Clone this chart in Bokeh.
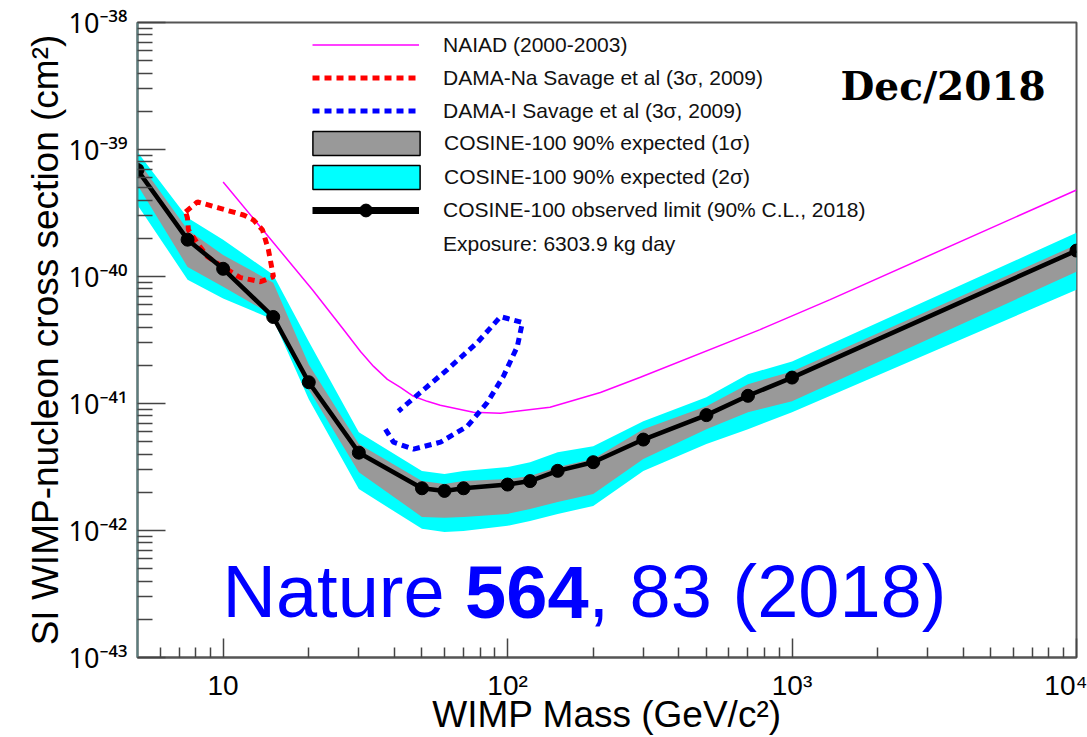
import math
from bokeh.plotting import figure
from bokeh.models import (Range1d, FixedTicker, Label, Legend, LegendItem,
                          CustomJSTickFormatter)
from bokeh.embed import file_html
from bokeh.resources import INLINE

# ---------------- data ----------------
mass = [5, 7.5, 10, 15, 20, 30, 50, 60, 70, 100, 120, 150, 200, 300, 500, 700, 1000, 10000]
observed = [6.9e-40, 1.95e-40, 1.15e-40, 4.8e-41, 1.47e-41, 4.1e-42, 2.15e-42, 2.05e-42,
            2.15e-42, 2.3e-42, 2.45e-42, 2.95e-42, 3.45e-42, 5.2e-42, 8.1e-42, 1.15e-41,
            1.6e-41, 1.6e-40]
exp2_up = [9.55e-40, 2.90e-40, 1.95e-40, 1.03e-40, 3.08e-41, 5.94e-42, 2.94e-42, 2.78e-42,
           2.94e-42, 3.16e-42, 3.45e-42, 4.14e-42, 4.61e-42, 7.25e-42, 1.12e-41, 1.70e-41,
           2.14e-41, 2.21e-40]
exp1_up = [8.26e-40, 2.33e-40, 1.48e-40, 8.94e-41, 2.03e-41, 4.79e-42, 2.45e-42, 2.32e-42,
           2.45e-42, 2.54e-42, 2.69e-42, 3.16e-42, 3.65e-42, 6.27e-42, 9.50e-42, 1.42e-41,
           1.79e-41, 1.78e-40]
exp1_lo = [5.26e-40, 1.19e-40, 8.32e-41, 4.92e-41, 1.29e-41, 2.88e-42, 1.28e-42, 1.26e-42,
           1.28e-42, 1.35e-42, 1.48e-42, 1.68e-42, 1.94e-42, 3.65e-42, 6.27e-42, 8.53e-42,
           1.04e-41, 1.09e-40]
exp2_lo = [3.66e-40, 9.44e-41, 6.70e-41, 4.58e-41, 1.08e-41, 2.12e-42, 1.03e-42, 9.75e-43,
           9.93e-43, 1.09e-42, 1.19e-42, 1.35e-42, 1.56e-42, 2.94e-42, 4.79e-42, 6.27e-42,
           8.53e-42, 7.87e-41]

naiad_mass = [10, 14.2, 20.6, 26.5, 30.4, 33.8, 37.8, 42.0, 46.7, 52.2, 58.0, 75.8, 94.4,
              141, 212, 293, 772, 1361, 10000]
naiad_xs = [5.54e-40, 2.15e-40, 7.87e-41, 3.82e-41, 2.57e-41, 1.96e-41, 1.55e-41, 1.34e-41,
            1.14e-41, 1.04e-41, 9.68e-42, 8.53e-42, 8.38e-42, 9.33e-42, 1.22e-41, 1.61e-41,
            3.82e-41, 6.58e-41, 4.8e-40]

dama_na_mass = [7.38, 8.12, 9.63, 11.79, 12.78, 13.75, 14.43, 15.03, 13.53, 11.51, 10.36,
                8.81, 8.19, 7.55, 7.49]
dama_na_xs = [3.23e-40, 3.87e-40, 3.47e-40, 3.05e-40, 2.79e-40, 2.33e-40, 1.62e-40, 9.96e-41,
              9.10e-41, 9.79e-41, 1.13e-40, 1.43e-40, 1.78e-40, 2.33e-40, 2.90e-40]

dama_i_mass = [37.2, 39.7, 46.7, 58.1, 72.2, 84.9, 96.7, 108.2, 112.7, 94.4, 78.3, 61.4, 49.3, 41.3]
dama_i_xs = [6.27e-42, 4.96e-42, 4.37e-42, 4.96e-42, 6.62e-42, 1.02e-41, 1.64e-41, 2.81e-41,
             4.34e-41, 4.83e-41, 3.02e-41, 1.85e-41, 1.22e-41, 8.69e-42]

x_major = [10, 100, 1000, 10000]
y_major = [1e-43, 1e-42, 1e-41, 1e-40, 1e-39, 1e-38]

legend_labels = ["NAIAD (2000-2003)",
                 "DAMA-Na Savage et al (3\u03c3, 2009)",
                 "DAMA-I Savage et al (3\u03c3, 2009)",
                 "COSINE-100 90% expected (1\u03c3)",
                 "COSINE-100 90% expected (2\u03c3)",
                 "COSINE-100 observed limit (90% C.L., 2018)",
                 "Exposure: 6303.9 kg day"]
x_title = "WIMP Mass (GeV/c\u00b2)"
y_title = "SI WIMP-nucleon cross section (cm\u00b2)"

# ---------------- layout ----------------
W, H = 1087, 737
L, R, T, B = 137, 1076, 22, 659
X_LO, X_HI = 5, 1e4
Y_LO, Y_HI = 1e-43, 1e-38
FONT = "Liberation Sans"
NAN = float("nan")


def xd(px):
    return 10 ** (math.log10(X_LO) + (px - L) / (R - L) * math.log10(X_HI / X_LO))


def yd(py):
    return 10 ** (math.log10(Y_HI) - (py - T) / (B - T) * math.log10(Y_HI / Y_LO))


p = figure(width=W, height=H, x_axis_type="log", y_axis_type="log",
           x_range=Range1d(X_LO, X_HI), y_range=Range1d(Y_LO, Y_HI),
           output_backend="svg", toolbar_location=None,
           min_border_left=L, min_border_right=W - R,
           min_border_top=T, min_border_bottom=H - B)
p.xgrid.visible = False
p.ygrid.visible = False
p.outline_line_color = "#555555"
p.outline_line_width = 2
p.background_fill_color = "white"
p.border_fill_color = "white"

x_minor = [k * 10 ** e for e in range(0, 4) for k in range(2, 10) if X_LO < k * 10 ** e < X_HI]
y_minor = [k * 10.0 ** e for e in range(-43, -38) for k in range(2, 10)]

pow_fmt = """
const sup = {"-": "\u207b", "0": "\u2070", "1": "\u00b9", "2": "\u00b2", "3": "\u00b3",
             "4": "\u2074", "5": "\u2075", "6": "\u2076", "7": "\u2077", "8": "\u2078",
             "9": "\u2079"};
const e = Math.round(Math.log10(tick));
if (e === 1) { return "10"; }
return "10" + String(e).split("").map(c => sup[c]).join("");
"""


def style_axis(ax, tick_in, minor_in, line_color, tick_font):
    ax.major_tick_in = tick_in
    ax.major_tick_out = 0
    ax.minor_tick_in = minor_in
    ax.minor_tick_out = 0
    ax.axis_line_color = line_color
    ax.axis_line_width = 2
    ax.major_tick_line_color = "#444444"
    ax.minor_tick_line_color = "#444444"
    ax.major_tick_line_width = 1.5
    ax.minor_tick_line_width = 1.5
    ax.formatter = CustomJSTickFormatter(code=pow_fmt)
    ax.major_label_text_font = tick_font
    ax.major_label_text_font_size = "27px"
    ax.major_label_text_color = "black"
    ax.axis_label_text_font = FONT
    ax.axis_label_text_font_size = "37px"
    ax.axis_label_text_font_style = "normal"
    ax.axis_label_text_color = "black"


xa = p.xaxis[0]
xa.ticker = FixedTicker(ticks=x_major, minor_ticks=x_minor)
style_axis(xa, 19, 10, "#555555", FONT)
xa.major_label_text_font_size = "28px"
xa.major_label_standoff = 12
xa.axis_label = x_title
xa.axis_label_standoff = -10

ya = p.yaxis[0]
ya.ticker = FixedTicker(ticks=y_major, minor_ticks=y_minor)
style_axis(ya, 28, 15, "#5b7d7d", "Noto Sans")
ya.major_label_standoff = 10
ya.axis_label = y_title
ya.axis_label_standoff = 0

# ---------------- data glyphs ----------------
p.varea(x=mass, y1=exp2_lo, y2=exp2_up, fill_color="#00ffff")
p.varea(x=mass, y1=exp1_lo, y2=exp1_up, fill_color="#999999")
r_naiad = p.line(naiad_mass, naiad_xs, line_color="#ff00ff", line_width=1.5)
r_na = p.line(dama_na_mass + dama_na_mass[:1], dama_na_xs + dama_na_xs[:1],
              line_color="#ff0000", line_width=5, line_dash="7 5")
r_i = p.line(dama_i_mass, dama_i_xs, line_color="#0000ff", line_width=5, line_dash="7 5")
p.line(mass, observed, line_color="black", line_width=4.5)
p.scatter(mass, observed, size=13, color="black")

# legend proxies (NaN data: nothing drawn in the plot)
k_1s = p.quad(left=[NAN], right=[NAN], top=[NAN], bottom=[NAN], fill_color="#999999",
              line_color="black", line_width=1.5)
k_2s = p.quad(left=[NAN], right=[NAN], top=[NAN], bottom=[NAN], fill_color="#00ffff",
              line_color="black", line_width=1.5)
k_obs_l = p.line(x=[NAN], y=[NAN], line_color="black", line_width=7)
k_obs_p = p.scatter(x=[NAN], y=[NAN], size=13, color="black")
k_expo = p.line(x=[NAN], y=[NAN], line_alpha=0)

common = dict(orientation="vertical", padding=0, margin=0,
              border_line_color=None, background_fill_alpha=0,
              label_text_font=FONT, label_text_font_size="21px",
              label_text_color="#111111")

leg_a = Legend(items=[
    LegendItem(label=legend_labels[0], renderers=[r_naiad]),
    LegendItem(label=legend_labels[1], renderers=[r_na]),
    LegendItem(label=legend_labels[2], renderers=[r_i]),
], location=(312 - L, B - 125), glyph_width=107, glyph_height=25, label_height=25,
    spacing=8, label_standoff=24, **common)

leg_b = Legend(items=[
    LegendItem(label=legend_labels[3], renderers=[k_1s]),
    LegendItem(label=legend_labels[4], renderers=[k_2s]),
], location=(299 - L, B - 194), glyph_width=134, glyph_height=30, label_height=30,
    spacing=4, label_standoff=11, **common)

leg_c = Legend(items=[
    LegendItem(label=legend_labels[5], renderers=[k_obs_l, k_obs_p]),
    LegendItem(label=legend_labels[6], renderers=[k_expo]),
], location=(312 - L, B - 262), glyph_width=107, glyph_height=32, label_height=32,
    spacing=2, label_standoff=24, **common)

for lg in (leg_a, leg_b, leg_c):
    p.add_layout(lg)

# ---------------- annotations inside the frame ----------------
p.add_layout(Label(x=xd(840), y=yd(86), text="Dec/2018", text_align="left",
                   text_baseline="middle", text_font="DejaVu Serif", text_font_style="bold",
                   text_font_size="39px", text_color="black"))

blue = "#0000ff"
p.add_layout(Label(x=xd(222), y=yd(593), text="Nature", text_align="left",
                   text_baseline="alphabetic", text_font=FONT, text_font_size="74px",
                   text_color=blue))
p.add_layout(Label(x=xd(464.6), y=yd(593), text="564", text_align="left",
                   text_baseline="alphabetic", text_font=FONT, text_font_size="74px",
                   text_font_style="bold", text_color=blue))
p.add_layout(Label(x=xd(588), y=yd(593), text=", 83 (2018)", text_align="left",
                   text_baseline="alphabetic", text_font=FONT, text_font_size="74px",
                   text_color=blue))

open("out.html", "w").write(file_html(p, INLINE))
